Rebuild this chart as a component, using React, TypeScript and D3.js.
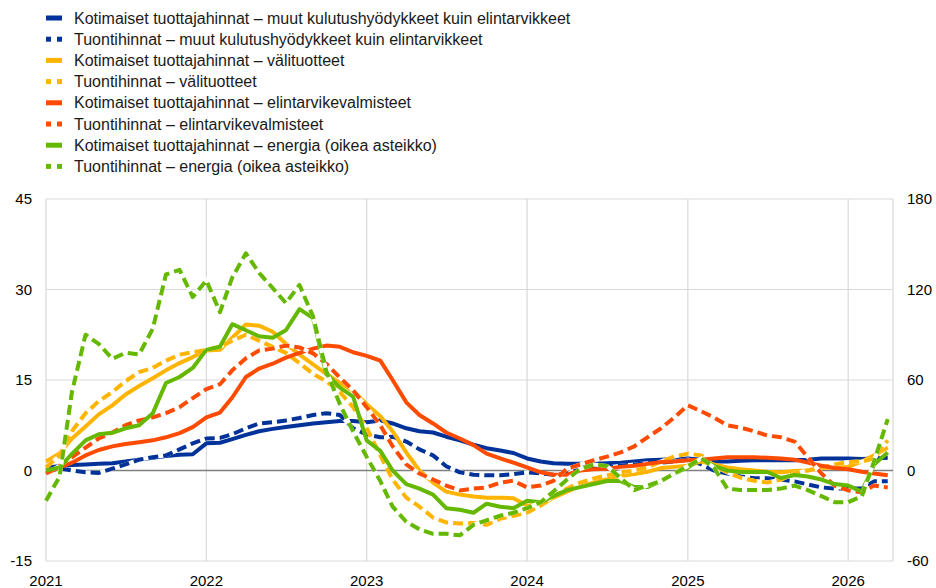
import { useEffect, useRef } from "react";
import * as d3 from "d3";

// monthly observations, Jan 2021 .. Apr 2026
const months = d3.timeMonth.range(new Date(2021, 0, 1), new Date(2026, 4, 1));

// left scale (%)
const kotiKulutus = [0.5, 0.7, 0.9, 1.0, 1.1, 1.2, 1.5, 1.8, 2.1, 2.4, 2.6, 2.7, 4.5, 4.6, 5.2, 5.9, 6.5, 6.9, 7.2, 7.5, 7.8, 8.0, 8.2, 8.2, 8.0, 8.3, 7.8, 7.0, 6.5, 6.3, 5.6, 5.0, 4.3, 3.7, 3.3, 2.9, 2.0, 1.5, 1.2, 1.1, 1.1, 1.1, 1.2, 1.3, 1.5, 1.7, 1.8, 1.9, 2.0, 1.8, 1.5, 1.5, 1.6, 1.7, 1.7, 1.7, 1.7, 1.8, 2.0, 2.0, 2.0, 1.9, 2.0, 2.1];
const tuontiKulutus = [0.0, 0.3, 0.0, -0.3, -0.4, 0.3, 1.0, 1.8, 2.2, 2.5, 3.5, 4.5, 5.3, 5.4, 6.0, 7.0, 7.8, 8.0, 8.3, 8.7, 9.2, 9.5, 9.2, 7.0, 6.0, 5.5, 5.6, 4.8, 3.5, 2.5, 0.7, -0.3, -0.7, -0.8, -0.8, -0.6, -0.3, -0.5, -0.7, -0.5, 0.2, 0.5, 0.5, 0.8, 1.0, 1.2, 1.3, 1.5, 1.8, 1.0, 0.0, -0.5, -1.0, -1.3, -1.3, -1.5, -1.8, -2.3, -2.8, -3.0, -3.0, -3.0, -1.8, -1.8];
const kotiVali = [1.5, 2.8, 5.3, 7.3, 9.3, 10.8, 12.6, 14.0, 15.3, 16.6, 17.8, 18.8, 19.9, 20.0, 22.0, 24.2, 24.0, 23.0, 21.0, 19.2, 17.6, 16.0, 14.5, 13.2, 11.0, 9.0, 6.5, 3.0, 0.0, -2.0, -3.5, -4.0, -4.3, -4.5, -4.5, -4.6, -5.8, -5.8, -4.5, -3.5, -2.5, -1.7, -1.3, -0.9, -0.6, -0.2, 0.4, 0.6, 0.8, 1.5, 1.0, 0.5, 0.2, 0.0, -0.2, -0.3, -0.1, 0.0, 0.4, 0.5, 0.6, 1.5, 2.5, 3.8];
const tuontiVali = [0.5, 2.5, 6.5, 9.5, 11.5, 13.0, 14.8, 16.3, 17.0, 18.2, 19.2, 19.6, 20.0, 20.5, 21.5, 22.5, 21.5, 20.5, 19.5, 17.8, 16.0, 14.8, 13.0, 10.5, 7.0, 2.5, -1.5, -4.5, -6.0, -7.8, -8.6, -8.8, -8.7, -9.0, -8.0, -7.5, -7.0, -5.8, -4.3, -3.0, -2.0, -1.3, -0.8, -0.3, 0.0, 0.5, 1.5, 2.3, 2.8, 2.5, 0.8, -0.3, -1.2, -1.7, -2.0, -1.5, -0.5, 0.0, 0.5, 1.0, 1.4, 1.5, 2.0, 5.0];
const kotiElin = [-0.5, 0.5, 1.3, 2.5, 3.4, 4.0, 4.4, 4.7, 5.0, 5.5, 6.2, 7.2, 8.8, 9.6, 12.1, 15.5, 16.9, 17.7, 18.7, 19.5, 20.2, 20.7, 20.5, 19.6, 19.0, 18.2, 15.0, 11.3, 9.2, 7.8, 6.3, 5.3, 4.2, 2.8, 2.0, 1.3, 0.5, -0.3, -0.7, -0.7, 0.0, 0.2, 0.3, 0.6, 0.8, 1.1, 1.4, 1.5, 1.7, 1.8, 2.0, 2.2, 2.2, 2.2, 2.1, 2.0, 1.8, 1.3, 0.8, 0.4, 0.2, -0.2, -0.5, -0.8];
const tuontiElin = [-0.5, 0.8, 2.2, 3.8, 5.3, 6.3, 7.5, 8.3, 8.8, 9.5, 10.5, 12.0, 13.5, 14.3, 16.6, 18.6, 19.9, 20.2, 20.7, 20.4, 19.4, 17.7, 15.4, 13.3, 10.5, 7.5, 4.0, 1.0, -0.5, -1.5, -2.5, -3.3, -3.0, -2.8, -2.0, -1.7, -2.8, -2.5, -1.7, 0.3, 1.0, 1.7, 2.3, 3.0, 4.0, 5.5, 7.0, 8.8, 10.8, 9.8, 8.8, 7.5, 7.1, 6.5, 5.8, 5.5, 4.8, 2.2, -0.5, -2.5, -3.3, -3.6, -2.5, -2.8];
// right scale (%)
const kotiEnergia = [0, 2, 11, 20, 24, 25, 28, 30, 38, 58, 62, 68, 80, 82, 97, 93, 89, 88, 93, 107, 101, 64, 55, 49, 20, 13, 0, -9, -12, -16, -25, -26, -28, -22, -24, -25, -20, -21, -17, -13, -11, -9, -7, -7, -11, -11, -7, -2, 2, 8, 3, 0, -1, -1, -1, -5, -3, -4, -6, -9, -10, -14, 4, 12];
const tuontiEnergia = [-20, -4, 52, 90, 84, 74, 78, 77, 94, 130, 133, 115, 126, 105, 128, 144, 131, 121, 111, 123, 102, 66, 44, 26, 9, -7, -24, -34, -39, -42, -42, -43, -36, -33, -30, -28, -25, -21, -14, -6, 1, 4, 3, -5, -13, -10, -7, -2, 3, 8, 2, -12, -13, -13, -13, -12, -10, -13, -17, -21, -21, -17, 6, 34];

const leftTicks = [-15, 0, 15, 30, 45];
const rightTicks = [-60, 0, 60, 120, 180];
const yearTicks = [2021, 2022, 2023, 2024, 2025, 2026];

const series = [
  { name: "Kotimaiset tuottajahinnat – muut kulutushyödykkeet kuin elintarvikkeet", values: kotiKulutus, color: "#003299", dashed: false, right: false },
  { name: "Tuontihinnat – muut kulutushyödykkeet kuin elintarvikkeet", values: tuontiKulutus, color: "#003299", dashed: true, right: false },
  { name: "Kotimaiset tuottajahinnat – välituotteet", values: kotiVali, color: "#ffb400", dashed: false, right: false },
  { name: "Tuontihinnat – välituotteet", values: tuontiVali, color: "#ffb400", dashed: true, right: false },
  { name: "Kotimaiset tuottajahinnat – elintarvikevalmisteet", values: kotiElin, color: "#ff4b00", dashed: false, right: false },
  { name: "Tuontihinnat – elintarvikevalmisteet", values: tuontiElin, color: "#ff4b00", dashed: true, right: false },
  { name: "Kotimaiset tuottajahinnat – energia (oikea asteikko)", values: kotiEnergia, color: "#65b800", dashed: false, right: true },
  { name: "Tuontihinnat – energia (oikea asteikko)", values: tuontiEnergia, color: "#65b800", dashed: true, right: true },
];

const W = 936;
const H = 588;
const FONT = "'Liberation Sans', Arial, sans-serif";

export default function App() {
  const ref = useRef<SVGSVGElement>(null);

  useEffect(() => {
    const svg = d3.select(ref.current);
    svg.selectAll("*").remove();

    const m = { left: 46, right: 893, top: 199, bottom: 561 };

    const x = d3.scaleTime()
      .domain([new Date(2021, 0, 1), new Date(2026, 3, 13)])
      .range([m.left, m.right]);
    const yL = d3.scaleLinear().domain([-15, 45]).range([m.bottom, m.top]);
    const yR = d3.scaleLinear().domain([-60, 180]).range([m.bottom, m.top]);

    // grid
    const grid = svg.append("g").attr("stroke", "#d9d9d9").attr("stroke-width", 1.2);
    leftTicks.forEach(t => {
      grid.append("line").attr("x1", m.left).attr("x2", m.right).attr("y1", yL(t)).attr("y2", yL(t));
    });
    yearTicks.forEach(yr => {
      const xx = x(new Date(yr, 0, 1));
      grid.append("line").attr("x1", xx).attr("x2", xx).attr("y1", m.top).attr("y2", m.bottom);
    });
    grid.append("line").attr("x1", m.right).attr("x2", m.right).attr("y1", m.top).attr("y2", m.bottom);

    svg.append("line")
      .attr("x1", m.left).attr("x2", m.right)
      .attr("y1", yL(0)).attr("y2", yL(0))
      .attr("stroke", "#7f7f7f").attr("stroke-width", 1.5);

    // axes labels
    const lab = svg.append("g").attr("font-family", FONT).attr("font-size", 15).attr("fill", "#000");
    leftTicks.forEach(t => {
      lab.append("text").attr("x", 32).attr("y", yL(t)).attr("dy", "0.35em").attr("text-anchor", "end").text(t);
    });
    rightTicks.forEach(t => {
      lab.append("text").attr("x", 907).attr("y", yR(t)).attr("dy", "0.35em").attr("text-anchor", "start").text(t);
    });
    yearTicks.forEach(yr => {
      lab.append("text").attr("x", x(new Date(yr, 0, 1))).attr("y", 586).attr("text-anchor", "middle").text(yr);
    });

    // lines
    const plot = svg.append("g");
    series.forEach(s => {
      const y = s.right ? yR : yL;
      const line = d3.line<number>()
        .x((_, i) => x(months[i]))
        .y(d => y(d));
      if (s.dashed) {
        plot.append("path")
          .attr("d", line(s.values))
          .attr("fill", "none")
          .attr("stroke", "#fff")
          .attr("stroke-width", 4);
      }
      plot.append("path")
        .attr("d", line(s.values))
        .attr("fill", "none")
        .attr("stroke", s.color)
        .attr("stroke-width", 4)
        .attr("stroke-linejoin", "round")
        .attr("stroke-dasharray", s.dashed ? "10,5" : null);
    });

    // legend
    const leg = svg.append("g").attr("font-family", FONT).attr("font-size", 16).attr("fill", "#1a1a1a");
    series.forEach((s, i) => {
      const cy = 18 + i * 21.2;
      if (s.dashed) {
        leg.append("rect").attr("x", 46).attr("y", cy - 2.5).attr("width", 5).attr("height", 5).attr("fill", s.color);
        leg.append("rect").attr("x", 57).attr("y", cy - 2.5).attr("width", 5).attr("height", 5).attr("fill", s.color);
      } else {
        leg.append("rect").attr("x", 46).attr("y", cy - 2.5).attr("width", 16).attr("height", 5).attr("fill", s.color);
      }
      leg.append("text").attr("x", 74).attr("y", cy).attr("dy", "0.35em").text(s.name);
    });
  }, []);

  return (
    <svg ref={ref} width={W} height={H} style={{ position: "absolute", left: 0, top: 0, background: "#fff" }} />
  );
}
